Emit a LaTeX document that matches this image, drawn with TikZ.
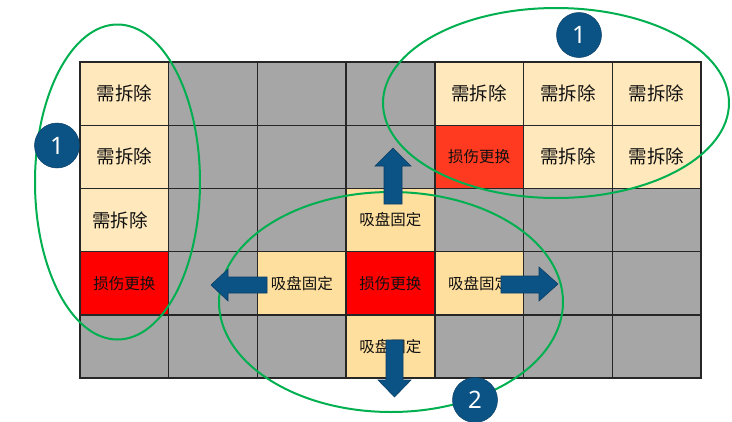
\documentclass[tikz,border=0pt]{standalone}
\usepackage{fontspec}
\setmainfont{Noto Sans CJK SC}
\newfontfamily\numfont{Noto Sans}
\definecolor{gridgray}{HTML}{A6A6A6}
\definecolor{cream}{HTML}{FFE8BC}
\definecolor{suck}{HTML}{FFDF9E}
\definecolor{redA}{HTML}{FF0000}
\definecolor{redB}{HTML}{FF3A20}
\definecolor{gline}{HTML}{262626}
\definecolor{ovalgreen}{HTML}{00B050}
\definecolor{navy}{HTML}{0B5384}
\definecolor{navyedge}{HTML}{0A3F66}
\definecolor{txt}{HTML}{111111}
\tikzset{
  cell/.style={draw=gline, line width=1.4pt, minimum width=88.71pt, minimum height=63.2pt, inner sep=0pt, text=txt},
  bigtxt/.style={font=\fontsize{18.5}{20}\selectfont},
  smalltxt/.style={font=\fontsize{15.5}{18}\selectfont},
  graycell/.style={cell, fill=gridgray},
  oval/.style={draw=ovalgreen, line width=2pt},
  blockarrow/.style={fill=navy, draw=navyedge, line width=0.6pt},
  badge/.style={circle, fill=navy, draw=navyedge, line width=0.5pt, minimum size=45pt, inner sep=0pt, text=white, font=\numfont\fontsize{24}{26}\selectfont}
}
\begin{document}
\begin{tikzpicture}[x=1pt, y=-1pt]
\useasboundingbox (0,0) rectangle (732,421);
% cells
\foreach \r in {1,...,5}{
  \foreach \c in {1,...,7}{
    \node[graycell] (g-\r-\c) at ({80+(\c-0.5)*88.71},{62+(\r-0.5)*63.2}) {};
  }
}
% coloured cells
\node[cell, fill=cream, bigtxt] (n11) at (g-1-1) {需拆除};
\node[cell, fill=cream, bigtxt] (n21) at (g-2-1) {需拆除};
\node[cell, fill=cream] (n31) at (g-3-1) {};
\node[bigtxt, text=txt, inner sep=0pt] (t31) at ([xshift=-4.5pt]n31.center) {需拆除};
\node[cell, fill=redA, smalltxt] (n41) at (g-4-1) {损伤更换};
\node[cell, fill=cream, bigtxt] (n15) at (g-1-5) {需拆除};
\node[cell, fill=cream, bigtxt] (n16) at (g-1-6) {需拆除};
\node[cell, fill=cream, bigtxt] (n17) at (g-1-7) {需拆除};
\node[cell, fill=redB, smalltxt] (n25) at (g-2-5) {损伤更换};
\node[cell, fill=cream, bigtxt] (n26) at (g-2-6) {需拆除};
\node[cell, fill=cream, bigtxt] (n27) at (g-2-7) {需拆除};
\node[cell, fill=suck, smalltxt] (n34) at (g-3-4) {吸盘固定};
\node[cell, fill=suck, smalltxt] (n43) at (g-4-3) {吸盘固定};
\node[cell, fill=redA, smalltxt] (n44) at (g-4-4) {损伤更换};
\node[cell, fill=suck, smalltxt] (n45) at (g-4-5) {吸盘固定};
\node[cell, fill=suck, smalltxt] (n54) at (g-5-4) {吸盘固定};
% ovals
\draw[oval] (117.5,182) ellipse [x radius=82.5, y radius=157.5];
\draw[oval] (556,103) ellipse [x radius=173, y radius=95];
\draw[oval] (391,302) ellipse [x radius=172, y radius=110];
% block arrows
\draw[blockarrow] (393,148) -- (411,166) -- (402,166) -- (402,204) -- (384,204) -- (384,166) -- (375,166) -- cycle;
\draw[blockarrow] (211,285) -- (228,269) -- (228,277) -- (267,277) -- (267,293) -- (228,293) -- (228,301) -- cycle;
\draw[blockarrow] (558,284) -- (539,267) -- (539,276) -- (501,276) -- (501,293) -- (539,293) -- (539,301) -- cycle;
\draw[blockarrow] (394.5,397) -- (411,380) -- (403,380) -- (403,340) -- (386,340) -- (386,380) -- (378,380) -- cycle;
% badges
\node[badge] (b1) at (57,145.5) {1};
\node[badge] (b2) at (579,35) {1};
\node[badge] (b3) at (475,400) {2};
\end{tikzpicture}
\end{document}
